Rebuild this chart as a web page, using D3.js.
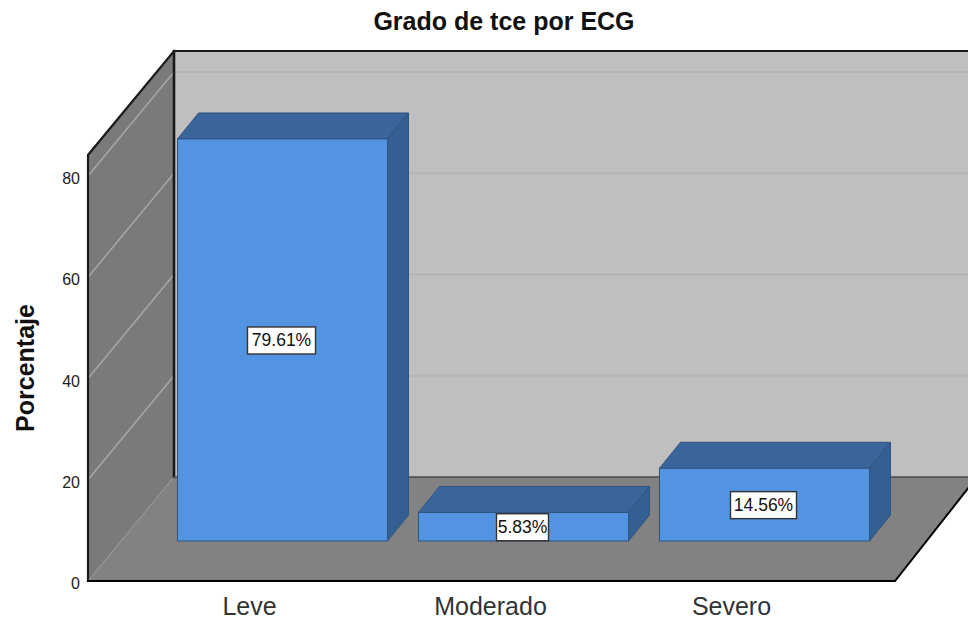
<!DOCTYPE html>
<html>
<head>
<meta charset="utf-8">
<script src="https://cdnjs.cloudflare.com/ajax/libs/d3/7.8.5/d3.min.js"></script>
<style>
html,body{margin:0;padding:0;background:#fff;overflow:hidden}
svg{display:block}
text{font-family:"Liberation Sans",Arial,sans-serif}
</style>
</head>
<body>
<svg id="chart" width="968" height="620"></svg>
<script>
const titleText = "Grado de tce por ECG";
const yTitle = "Porcentaje";
const categories = ["Leve", "Moderado", "Severo"];
const values = [79.61, 5.83, 14.56];
const labels = ["79.61%", "5.83%", "14.56%"];
const yTicks = [0, 20, 40, 60, 80];

const svg = d3.select("#chart");
const y = d3.scaleLinear().domain([0, 80]).range([581, 176]);
const x = d3.scaleBand().domain(categories).range([129, 852]).paddingInner(0.1286).paddingOuter(0.0643);

const plot = {left: 88, right: 895, bottom: 581, top: y(84.15)};
const depth = {dx: 86, dy: 104};           // box depth
const floorRight = {dx: 82, dy: 104};
const barFront = {dx: 33, dy: 40};         // bar front-face offset into the box
const barDepth = {dx: 21, dy: 26};         // bar thickness

const poly = pts => pts.map(p => p.join(",")).join(" ");
const colors = {wall:"#bfbfbf", side:"#7a7a7a", floor:"#828282", grid:"#b4b4b4", sideGrid:"#a8a8a8",
                front:"#5294e2", top:"#3a659b", right:"#345f92", edge:"#2f5480"};

// back wall
svg.append("rect").attr("x", plot.left + depth.dx).attr("y", plot.top - depth.dy)
  .attr("width", 968 - plot.left - depth.dx).attr("height", plot.bottom - plot.top).attr("fill", colors.wall);
// left wall
svg.append("polygon").attr("fill", colors.side).attr("points", poly([
  [plot.left, plot.bottom], [plot.left, plot.top],
  [plot.left + depth.dx, plot.top - depth.dy], [plot.left + depth.dx, plot.bottom - depth.dy]]));
// floor
svg.append("polygon").attr("fill", colors.floor).attr("points", poly([
  [plot.left, plot.bottom], [plot.right, plot.bottom],
  [plot.right + floorRight.dx, plot.bottom - floorRight.dy], [plot.left + depth.dx, plot.bottom - depth.dy]]));

// gridlines
const grid = svg.append("g");
yTicks.filter(d => d > 0).forEach(t => {
  grid.append("line").attr("x1", plot.left + depth.dx).attr("x2", 968)
    .attr("y1", y(t) - depth.dy).attr("y2", y(t) - depth.dy)
    .attr("stroke", colors.grid).attr("stroke-width", 2);
  grid.append("line").attr("x1", plot.left).attr("x2", plot.left + depth.dx)
    .attr("y1", y(t)).attr("y2", y(t) - depth.dy)
    .attr("stroke", colors.sideGrid).attr("stroke-width", 1.5);
});

// frame lines
const frame = svg.append("g").attr("fill", "none").attr("stroke-linecap", "square");
frame.append("path").attr("stroke", "#1a1a1a").attr("stroke-width", 2.2)
  .attr("d", d3.line()([[plot.left, plot.bottom], [plot.left, plot.top], [plot.left + depth.dx, plot.top - depth.dy], [968, plot.top - depth.dy]]));
frame.append("line").attr("stroke", "#1a1a1a").attr("stroke-width", 2.6)
  .attr("x1", plot.left + depth.dx).attr("x2", plot.left + depth.dx)
  .attr("y1", plot.top - depth.dy).attr("y2", plot.bottom - depth.dy);
frame.append("line").attr("stroke", "#4a4a4a").attr("stroke-width", 1.5)
  .attr("x1", plot.left + depth.dx).attr("x2", 968)
  .attr("y1", plot.bottom - depth.dy).attr("y2", plot.bottom - depth.dy);
frame.append("line").attr("stroke", "#9a9a9a").attr("stroke-width", 1).attr("stroke-dasharray", "1.5 1.5")
  .attr("x1", plot.left).attr("x2", plot.left + depth.dx)
  .attr("y1", plot.bottom).attr("y2", plot.bottom - depth.dy);
frame.append("path").attr("stroke", "#000").attr("stroke-width", 2)
  .attr("d", d3.line()([[plot.left, plot.bottom], [plot.right, plot.bottom], [plot.right + floorRight.dx, plot.bottom - floorRight.dy]]));

// bars
const bars = svg.append("g").selectAll("g").data(categories).join("g");
const bx = c => x(c) + barFront.dx;
const bw = x.bandwidth();
const by0 = plot.bottom - barFront.dy;
const by1 = (c, i) => y(values[i]) - barFront.dy + 1;
bars.append("polygon").attr("fill", colors.top).attr("stroke", colors.edge).attr("points", (c, i) => poly([
  [bx(c), by1(c, i)], [bx(c) + bw, by1(c, i)],
  [bx(c) + bw + barDepth.dx, by1(c, i) - barDepth.dy], [bx(c) + barDepth.dx, by1(c, i) - barDepth.dy]]));
bars.append("polygon").attr("fill", colors.right).attr("stroke", colors.edge).attr("points", (c, i) => poly([
  [bx(c) + bw, by1(c, i)], [bx(c) + bw, by0],
  [bx(c) + bw + barDepth.dx, by0 - barDepth.dy], [bx(c) + bw + barDepth.dx, by1(c, i) - barDepth.dy]]));
bars.append("rect").attr("fill", colors.front).attr("stroke", colors.edge)
  .attr("x", bx).attr("y", by1).attr("width", bw).attr("height", (c, i) => by0 - by1(c, i));

// value labels
const lab = svg.append("g").selectAll("g").data(categories).join("g")
  .attr("transform", (c, i) => `translate(${bx(c) + bw / 2 - 1},${(by0 + by1(c, i)) / 2})`);
const labW = [68, 52, 66];
lab.append("rect").attr("x", (c, i) => -labW[i] / 2).attr("y", -13).attr("width", (c, i) => labW[i]).attr("height", 27)
  .attr("fill", "#fff").attr("stroke", "#333").attr("stroke-width", 1.4);
lab.append("text").attr("text-anchor", "middle").attr("y", 6.5).attr("font-size", 17.5).attr("fill", "#111")
  .text((c, i) => labels[i]);

// y axis
const yAxis = svg.append("g").attr("transform", `translate(${plot.left},2.5)`)
  .call(d3.axisLeft(y).tickValues(yTicks).tickSize(0).tickPadding(8).tickFormat(d3.format("d")));
yAxis.select(".domain").remove();
yAxis.selectAll("text").attr("font-size", 16).attr("fill", "#222").style("font-family", '"Liberation Sans",Arial,sans-serif');

// x axis labels
const xAxis = svg.append("g").attr("transform", `translate(0,${plot.bottom})`)
  .call(d3.axisBottom(x).tickSize(0).tickPadding(16));
xAxis.select(".domain").remove();
xAxis.selectAll("text").attr("font-size", 25).attr("fill", "#333").style("font-family", '"Liberation Sans",Arial,sans-serif');

// titles
svg.append("text").attr("x", 504).attr("y", 30).attr("text-anchor", "middle")
  .attr("font-size", 25).attr("font-weight", "bold").attr("fill", "#111").text(titleText);
svg.append("text").attr("transform", "translate(34,368) rotate(-90)").attr("text-anchor", "middle")
  .attr("font-size", 25).attr("font-weight", "bold").attr("fill", "#111").text(yTitle);
</script>
</body>
</html>
